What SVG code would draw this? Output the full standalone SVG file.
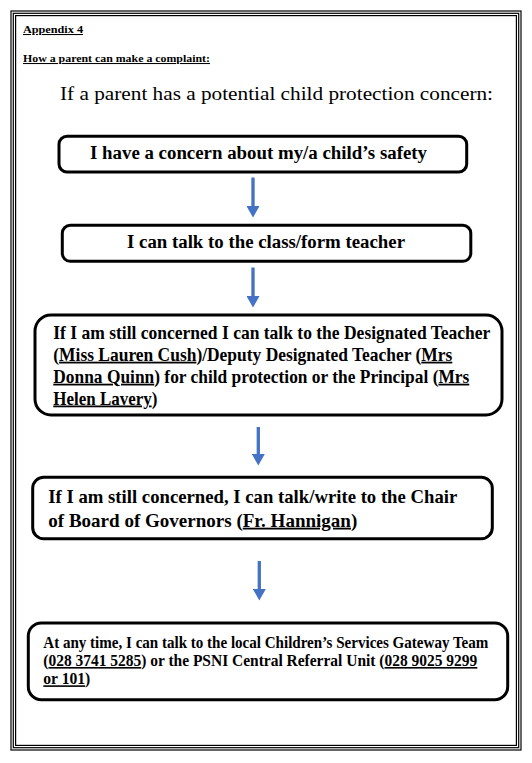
<svg xmlns="http://www.w3.org/2000/svg" width="532" height="763" viewBox="0 0 532 763">
<style>
.t{font-family:'Liberation Serif','DejaVu Serif',serif;fill:#000}
.b{font-weight:bold}
.u{text-decoration:underline}
.box{fill:#fff;stroke:#000;stroke-width:3}
.frame{fill:none;stroke:#000;stroke-width:1.2}
.arr{stroke:#4472C4;stroke-width:3.3;fill:none}
</style>
<defs>
<marker id="ah" markerUnits="userSpaceOnUse" markerWidth="12" markerHeight="13" viewBox="0 0 12 13" refX="0" refY="6.5" orient="auto">
<path d="M0,0 L11.5,6.5 L0,13 z" fill="#4472C4"/>
</marker>
</defs>
<rect width="532" height="763" fill="#fff"/>
<g id="page-border">
<rect class="frame" x="11" y="11" width="510" height="739" stroke-width="1.6"/>
<rect class="frame" x="13.3" y="13.3" width="505.4" height="734.4"/>
<rect class="frame" x="15.6" y="15.6" width="500.8" height="729.8"/>
</g>
<g id="headings">
<text class="t b u" x="23" y="33" font-size="10.5" textLength="60" lengthAdjust="spacingAndGlyphs">Appendix 4</text>
<text class="t b u" x="23" y="62" font-size="10.5" textLength="187" lengthAdjust="spacingAndGlyphs">How a parent can make a complaint:</text>
<text class="t" x="60" y="100" font-size="19.5" textLength="433" lengthAdjust="spacingAndGlyphs">If a parent has a potential child protection concern:</text>
</g>
<g id="connectors">
<line class="arr" x1="253" y1="177.5" x2="253" y2="206" marker-end="url(#ah)"/>
<line class="arr" x1="253" y1="267.5" x2="253" y2="296" marker-end="url(#ah)"/>
<line class="arr" x1="258.3" y1="427" x2="258.3" y2="454" marker-end="url(#ah)"/>
<line class="arr" x1="259.3" y1="561" x2="259.3" y2="589" marker-end="url(#ah)"/>
</g>
<g id="node1">
<rect class="box" x="59" y="136.3" width="407.7" height="35.7" rx="8"/>
<text class="t b" x="90" y="159" font-size="18.5" textLength="337" lengthAdjust="spacingAndGlyphs">I have a concern about my/a child’s safety</text>
</g>
<g id="node2">
<rect class="box" x="62.3" y="225.3" width="408.5" height="36" rx="8"/>
<text class="t b" x="127" y="248.3" font-size="18.5" textLength="278" lengthAdjust="spacingAndGlyphs">I can talk to the class/form teacher</text>
</g>
<g id="node3">
<rect class="box" x="35" y="315" width="467" height="100" rx="16" stroke-width="3.5"/>
<text class="t b" x="53.3" y="338.5" font-size="17.8" textLength="437" lengthAdjust="spacingAndGlyphs">If I am still concerned I can talk to the Designated Teacher</text>
<text class="t b" x="53.3" y="360.7" font-size="17.8" textLength="399" lengthAdjust="spacingAndGlyphs">(<tspan class="u">Miss Lauren Cush</tspan>)/Deputy Designated Teacher (<tspan class="u">Mrs</tspan></text>
<text class="t b" x="53.3" y="382.7" font-size="17.8" textLength="416" lengthAdjust="spacingAndGlyphs"><tspan class="u">Donna Quinn</tspan>) for child protection or the Principal (<tspan class="u">Mrs</tspan></text>
<text class="t b" x="53.3" y="404.5" font-size="17.8" textLength="104" lengthAdjust="spacingAndGlyphs"><tspan class="u">Helen Lavery</tspan>)</text>
</g>
<g id="node4">
<rect class="box" x="32.7" y="477.3" width="459.6" height="61.4" rx="11" stroke-width="3.5"/>
<text class="t b" x="48.3" y="502.7" font-size="18.3" textLength="409" lengthAdjust="spacingAndGlyphs">If I am still concerned, I can talk/write to the Chair</text>
<text class="t b" x="48.3" y="526.7" font-size="18.3" textLength="309" lengthAdjust="spacingAndGlyphs">of Board of Governors (<tspan class="u">Fr. Hannigan</tspan>)</text>
</g>
<g id="node5">
<rect class="box" x="28.3" y="623" width="479.4" height="76.7" rx="13" stroke-width="3.5"/>
<text class="t b" x="43.3" y="647.7" font-size="16" textLength="445" lengthAdjust="spacingAndGlyphs">At any time, I can talk to the local Children’s Services Gateway Team</text>
<text class="t b" x="43.3" y="666" font-size="16" textLength="434" lengthAdjust="spacingAndGlyphs">(<tspan class="u">028 3741 5285</tspan>) or the PSNI Central Referral Unit (<tspan class="u">028 9025 9299</tspan></text>
<text class="t b" x="43.3" y="684.3" font-size="16" textLength="47" lengthAdjust="spacingAndGlyphs"><tspan class="u">or 101</tspan>)</text>
</g>
</svg>
